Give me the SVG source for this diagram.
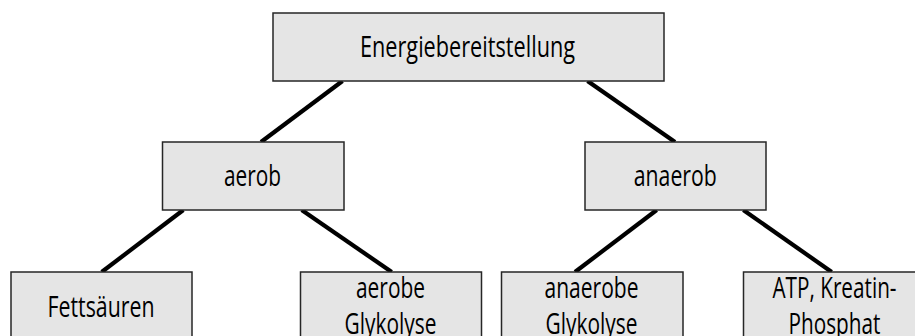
<svg xmlns="http://www.w3.org/2000/svg" width="915" height="336" viewBox="0 0 915 336">
<style>
.box{fill:#e5e5e5;stroke:#262626;stroke-width:1.5}
.lbl{font-family:"Open Sans","Noto Sans","Liberation Sans",sans-serif;font-size:29px;fill:#000;text-anchor:middle}
.edge{stroke:#000;stroke-width:4.2;fill:none}
</style>
<rect width="915" height="336" fill="#fff"/>
<g id="connectors">
<line class="edge" x1="342.5" y1="81" x2="261" y2="142"/>
<line class="edge" x1="587.5" y1="81" x2="675" y2="142"/>
<line class="edge" x1="183.3" y1="210" x2="101.7" y2="272"/>
<line class="edge" x1="301.7" y1="210" x2="391.7" y2="272"/>
<line class="edge" x1="656.7" y1="210" x2="575" y2="272"/>
<line class="edge" x1="743.3" y1="210" x2="831.7" y2="272"/>
</g>
<g id="energie">
<rect class="box" x="273" y="13" width="391" height="68"/>
<text class="lbl" x="467.5" y="57.3" textLength="215" lengthAdjust="spacingAndGlyphs">Energiebereitstellung</text>
</g>
<g id="aerob">
<rect class="box" x="162.5" y="142" width="181.5" height="68"/>
<text class="lbl" x="252.5" y="185.5" textLength="57" lengthAdjust="spacingAndGlyphs">aerob</text>
</g>
<g id="anaerob">
<rect class="box" x="585" y="142" width="181" height="68"/>
<text class="lbl" x="675.3" y="185.5" textLength="83" lengthAdjust="spacingAndGlyphs">anaerob</text>
</g>
<g id="fettsaeuren">
<rect class="box" x="11" y="272" width="181" height="68"/>
<text class="lbl" x="101" y="316.7" textLength="107" lengthAdjust="spacingAndGlyphs">Fettsäuren</text>
</g>
<g id="aerobe-glykolyse">
<rect class="box" x="300.5" y="272" width="181" height="68"/>
<text class="lbl" x="390.5" y="298.3" textLength="69" lengthAdjust="spacingAndGlyphs">aerobe</text>
<text class="lbl" x="390.5" y="334" textLength="92" lengthAdjust="spacingAndGlyphs">Glykolyse</text>
</g>
<g id="anaerobe-glykolyse">
<rect class="box" x="501.5" y="272" width="181.5" height="68"/>
<text class="lbl" x="591.5" y="298.3" textLength="94" lengthAdjust="spacingAndGlyphs">anaerobe</text>
<text class="lbl" x="591.5" y="334" textLength="92" lengthAdjust="spacingAndGlyphs">Glykolyse</text>
</g>
<g id="atp">
<rect class="box" x="743.5" y="272" width="181" height="68"/>
<text class="lbl" x="834.5" y="298.3" textLength="124" lengthAdjust="spacingAndGlyphs">ATP, Kreatin-</text>
<text class="lbl" x="834.5" y="334" textLength="92" lengthAdjust="spacingAndGlyphs">Phosphat</text>
</g>
</svg>
